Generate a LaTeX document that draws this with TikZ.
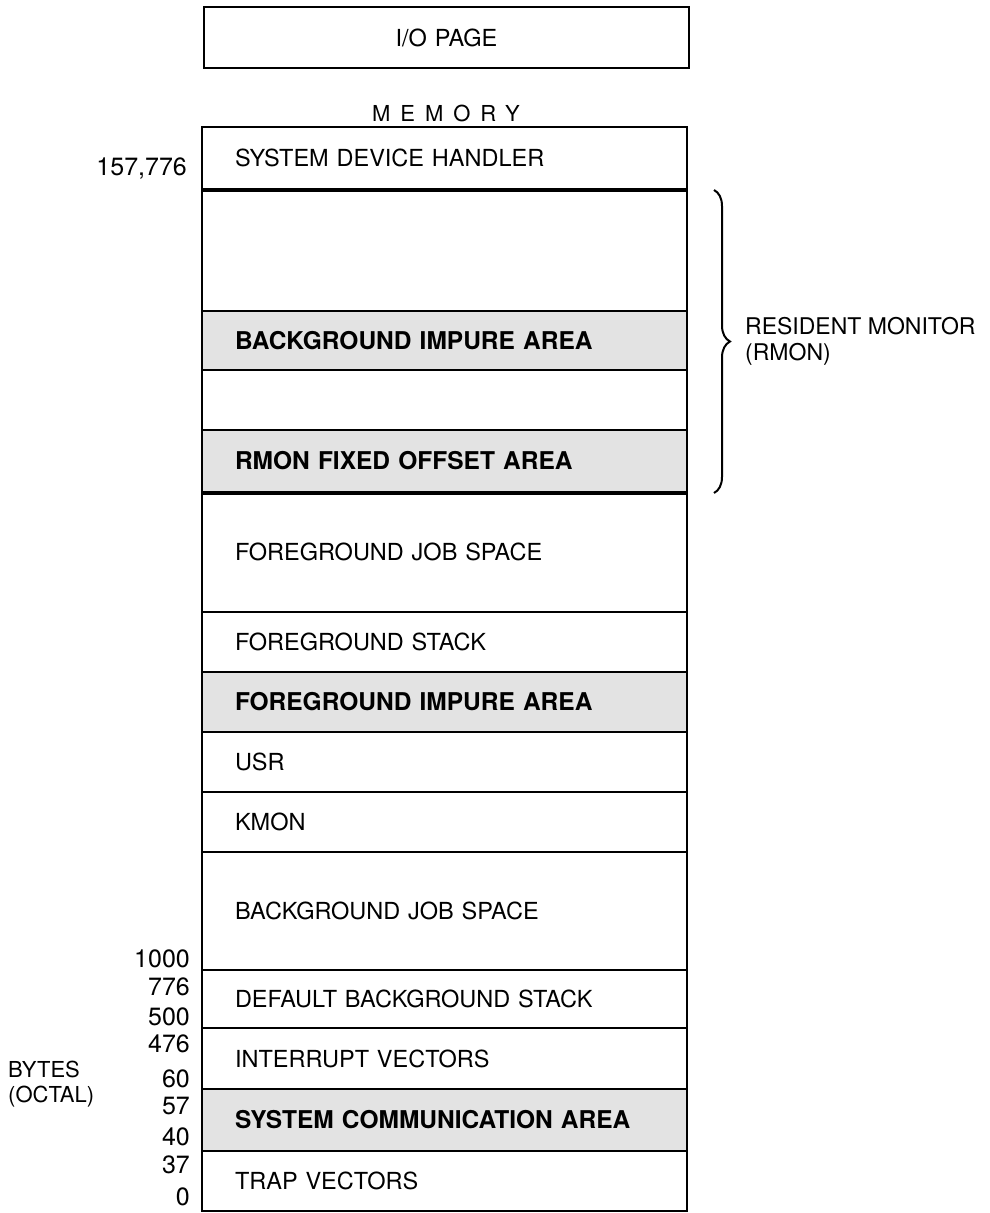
\documentclass[tikz,border=0pt]{standalone}
\usepackage{fontspec}
\setmainfont{TeX Gyre Heros}
\usetikzlibrary{decorations.pathreplacing}
\begin{document}
\begin{tikzpicture}[
    x=1pt, y=-1pt,
    cell/.style={rectangle, draw, line width=2pt, minimum width=485pt, text width=419pt, inner xsep=33pt, inner ysep=0pt, align=left, font=\fontsize{23.5}{26}\selectfont},
    impure/.style={cell, fill=black!11, font=\fontsize{24.5}{26}\selectfont\bfseries},
    num/.style={anchor=east, inner sep=0pt, font=\fontsize{25}{27}\selectfont},
    sep/.style={line width=4.5pt}
]
    \useasboundingbox (0,0) rectangle (989,1213);

    \node[cell, minimum height=61pt, align=center] (io) at (446.5,37.5) {I/O PAGE};
    \node[font=\fontsize{22}{25}\selectfont\addfontfeature{LetterSpace=45}] (mem) at (446,113) {MEMORY};

    % memory map, top to bottom
    \node[cell, minimum height=62pt] (sdh) at (444.5,158) {SYSTEM DEVICE HANDLER};
    \node[cell, minimum height=122pt] (free) at (444.5,250) {};
    \node[impure, minimum height=59pt] (bgimp) at (444.5,340.5) {BACKGROUND IMPURE AREA};
    \node[cell, minimum height=60pt] (gap) at (444.5,400) {};
    \node[impure, minimum height=62pt] (fixed) at (444.5,461) {RMON FIXED OFFSET AREA};
    \node[cell, minimum height=120pt] (fgjob) at (444.5,552) {FOREGROUND JOB SPACE};
    \node[cell, minimum height=60pt] (fgstack) at (444.5,642) {FOREGROUND STACK};
    \node[impure, minimum height=60pt] (fgimp) at (444.5,702) {FOREGROUND IMPURE AREA};
    \node[cell, minimum height=60pt] (usr) at (444.5,762) {USR};
    \node[cell, minimum height=60pt] (kmon) at (444.5,822) {KMON};
    \node[cell, minimum height=118pt] (bgjob) at (444.5,911) {BACKGROUND JOB SPACE};
    \node[cell, minimum height=58pt] (bgstack) at (444.5,999) {DEFAULT BACKGROUND STACK};
    \node[cell, minimum height=61pt] (intvec) at (444.5,1058.5) {INTERRUPT VECTORS};
    \node[impure, minimum height=62pt] (syscom) at (444.5,1120) {SYSTEM COMMUNICATION AREA};
    \node[cell, minimum height=60pt] (trap) at (444.5,1181) {TRAP VECTORS};

    \draw[sep] (sdh.south west) -- (sdh.south east);
    \draw[sep] (fixed.south west) -- (fixed.south east);

    % addresses
    \node[num] (a157776) at (187,168) {157,776};
    \node[num] (a1000) at (190,959) {1000};
    \node[num] (a776) at (190,987) {776};
    \node[num] (a500) at (190,1017) {500};
    \node[num] (a476) at (190,1044) {476};
    \node[num] (a60) at (190,1079) {60};
    \node[num] (a57) at (190,1106) {57};
    \node[num] (a40) at (190,1137) {40};
    \node[num] (a37) at (190,1165) {37};
    \node[num] (a0) at (190,1197) {0};
    \node[anchor=west, inner sep=0pt, align=left, font=\fontsize{22}{25}\selectfont] (bytes) at (8,1084) {BYTES\\(OCTAL)};

    % resident monitor
    \coordinate (rtop) at (714,190);
    \coordinate (rbot) at (714,493);
    \draw[decorate, decoration={brace, amplitude=16pt}, line width=2pt] (rtop) -- (rbot);
    \node[anchor=west, inner sep=0pt, align=left, font=\fontsize{23}{26}\selectfont] (rmon) at (745,341) {RESIDENT MONITOR\\(RMON)};
\end{tikzpicture}
\end{document}
